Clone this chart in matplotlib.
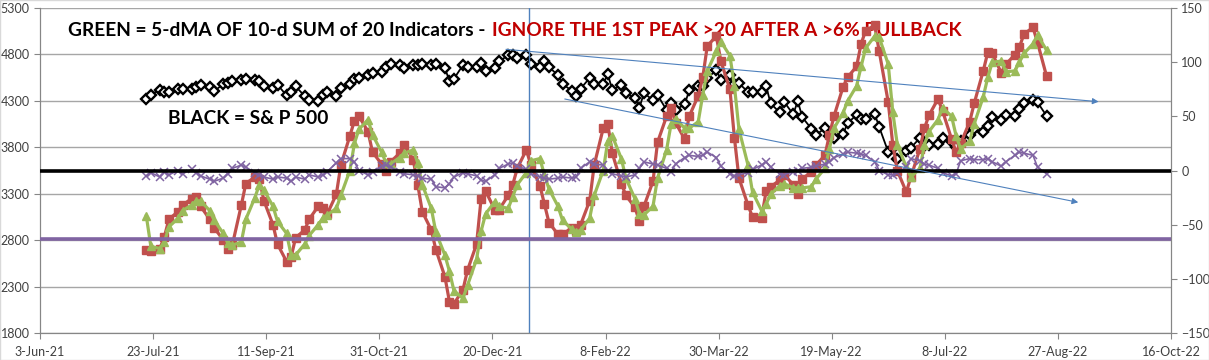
import numpy as np
import pandas as pd
import matplotlib
matplotlib.use("Agg")
import matplotlib.pyplot as plt
import matplotlib.dates as mdates

plt.rcParams['font.family'] = ['Lato', 'DejaVu Sans']

# data: one point every 2nd trading day from 20-Jul-21
first_day = '2021-07-20'

# S&P 500 close (left axis)
spx = [4323, 4367, 4422, 4400, 4395,
       4423, 4429, 4432, 4447, 4468, 4449, 4406, 4479, 4496, 4509, 4523,
       4537, 4530, 4514, 4459, 4443, 4474, 4358, 4395, 4455, 4353, 4308,
       4300, 4363, 4391, 4350, 4438, 4486, 4537, 4545, 4574, 4596,
       4613, 4660, 4697, 4685, 4649, 4682, 4688, 4698, 4690, 4701, 4655,
       4513, 4538, 4686, 4667, 4669, 4709, 4621, 4649, 4726, 4791, 4793, 4766,
       4794, 4696, 4670, 4726, 4663, 4577, 4483, 4410, 4350, 4432,
       4546, 4478, 4484, 4587, 4419, 4471, 4380, 4330, 4226, 4385,
       4306, 4363, 4201, 4278, 4204, 4262, 4412, 4461, 4457, 4543, 4632, 4530,
       4583, 4481, 4488, 4397, 4392, 4391, 4459, 4272, 4175, 4288,
       4155, 4300, 4123, 4001, 3930, 4008, 3923, 3901, 3941, 4058, 4150,
       4101, 4109, 4161, 4018, 3750, 3790, 3675, 3765, 3796, 3900, 3819,
       3825, 3831, 3903, 3855, 3802, 3863, 3937, 3999, 3967, 4024, 4130,
       4091, 4152, 4140, 4210, 4280, 4305, 4284, 4138]

# 10-d sum of 20 indicators (red, right axis)
sum10 = [-73, -74, -72, -61, -45, -38, -32, -26, -24, -33,
         -45, -53, -64, -72, -69, -32, -12, -6, -8, -28,
         -50, -68, -84, -80, -62, -55, -45, -33, -35, -40,
         -22, 5, 32, 46, 50, 36, 17, 6, 0, 8,
         16, 24, 10, -13, -38, -55, -73, -98, -121, -123,
         -110, -92, -68, -26, -19, -36, -36, -23, -13, 2,
         19, 5, -14, -31, -48, -59, -59, -53, -56, -50,
         -28, 5, 39, 43, 16, -12, -23, -34, -47, -33,
         -10, 26, 50, 58, 44, 29, 50, 69, 86, 115,
         124, 101, 75, 30, -7, -32, -43, -44, -19, -15,
         -9, -4, -13, -22, -8, -1, 5, 14, 33, 50,
         77, 86, 96, 117, 129, 134, 110, 63, 24, 0,
         -20, -6, 20, 39, 51, 66, 55, 29, 17, 25,
         45, 62, 92, 109, 108, 90, 98, 107, 114, 126,
         132, 118, 87]

# 5-dMA of the 10-d sum (green, right axis)
ma5 = [-42, -70, -72, -66, -52, -44, -37, -32, -28, -28,
       -37, -46, -58, -67, -69, -66, -45, -25, -13, -18,
       -33, -47, -58, -78, -78, -68, -60, -50, -44, -41,
       -35, -23, 0, 25, 38, 47, 33, 17, 7, 6,
       12, 16, 19, 7, -13, -35, -57, -78, -93, -111,
       -118, -106, -82, -56, -40, -29, -33, -35, -24, -13,
       -2, 9, 11, -4, -17, -33, -46, -54, -57, -55,
       -44, -23, 0, 27, 32, 11, -7, -26, -40, -41,
       -33, -7, 19, 43, 48, 39, 39, 45, 70, 92,
       110, 119, 106, 78, 38, 5, -20, -37, -31, -22,
       -14, -12, -16, -16, -16, -15, -8, 2, 20, 39,
       53, 64, 78, 96, 113, 124, 123, 98, 54, 24,
       3, -6, 2, 24, 36, 47, 58, 50, 32, 20,
       27, 43, 68, 86, 100, 101, 91, 92, 100, 108,
       117, 125, 111]

# daily sum of the 20 indicators (purple, right axis)
daily = [-5, -2, -6, -1, -4, 0, -3, 1, -2, -5,
         -8, -10, -7, -3, 2, 5, 3, -2, -4, -6,
         -8, -6, -7, -10, -6, -8, -4, -6, -4, -1,
         7, 11, 11, 8, 0, -4, -1, 4, 5, 3,
         -1, -3, -4, -5, -7, -8, -15, -16, -12, -6,
         -2, -3, -5, -9, -10, -4, 2, 6, 7, 4,
         1, -3, -6, -7, -8, -7, -6, -7, -6, 2,
         8, 6, 5, 0, -3, -5, -6, -4, 2, 8,
         6, 5, 2, -1, 6, 12, 14, 13, 14, 17,
         12, 4, -3, -5, -4, -2, 1, 5, 8, 3,
         -3, -4, -1, 0, 2, 3, 4, 6, 8, 12,
         15, 17, 16, 15, 14, 8, 0, -4, -4, -2,
         3, 11, 9, 6, 5, 2, -2, -5, -3, 9,
         11, 10, 10, 11, 8, 4, 8, 14, 17, 16,
         14, 3, -3]

zero_level = 0
purple_level = -63
marker_day = '2022-01-05'
# trend arrows: (start date, start S&P), (end date, end S&P)
arrow_upper = (('2021-12-26', 4855), ('2022-09-14', 4291))
arrow_lower = (('2022-01-21', 4320), ('2022-09-05', 3207))

title_black = "GREEN = 5-dMA OF 10-d SUM of 20 Indicators -"
title_red = "IGNORE THE 1ST PEAK >20 AFTER A >6% PULLBACK"
label_black = "BLACK = S& P 500"

assert len(spx) == len(sum10) == len(ma5) == len(daily)
dates = pd.bdate_range(first_day, periods=len(spx), freq='2B')

W, H = 1209, 360
fig = plt.figure(figsize=(W / 100, H / 100), dpi=100)
ax = fig.add_axes([40 / W, 27 / H, 1131 / W, 325 / H])
ax2 = ax.twinx()

ax.plot(dates, spx, color='black', lw=1.3, marker='D', ms=5.5, mfc='white',
        mec='black', mew=1.7)
ax2.plot(dates, sum10, color='#C0504D', lw=2.3, marker='s', ms=6)
ax2.plot(dates, ma5, color='#9BBB59', lw=2.3, marker='^', ms=6)
ax2.plot(dates, daily, color='#8064A2', lw=1.2, marker='x', ms=6, mew=1.1)

ax2.axhline(zero_level, color='black', lw=2.6, zorder=5)
ax2.axhline(purple_level, color='#8064A2', lw=2.6, zorder=5)
ax.axvline(pd.Timestamp(marker_day), color='#4F81BD', lw=1)

for (d0, v0), (d1, v1) in (arrow_upper, arrow_lower):
    ax2.annotate('', xy=(mdates.date2num(pd.Timestamp(d1)), v1),
                 xytext=(mdates.date2num(pd.Timestamp(d0)), v0),
                 xycoords=ax.transData, textcoords=ax.transData,
                 arrowprops=dict(arrowstyle='-|>', color='#4F81BD', lw=0.8,
                                 mutation_scale=9, shrinkA=0, shrinkB=0),
                 zorder=6)

# axes
ax.set_xlim(pd.Timestamp('2021-06-03'), pd.Timestamp('2022-10-16'))
ax.set_ylim(1800, 5300)
ax.set_yticks(range(1800, 5301, 500))
ax2.set_ylim(-150, 150)
ax2.set_yticks(range(-150, 151, 50))
xt = pd.date_range('2021-06-03', '2022-10-16', freq='50D')
ax.set_xticks(xt)
ax.set_xticklabels([f"{d.day}-{d.strftime('%b-%y')}" for d in xt])

ax.yaxis.grid(True, color='#A6A6A6', lw=1)
ax.set_axisbelow(True)
for a in (ax, ax2):
    a.spines['top'].set_visible(False)
    for s in ('left', 'right', 'bottom'):
        a.spines[s].set_color('#868686')
    a.tick_params(direction='out', length=4, color='#868686', labelsize=9,
                  labelcolor='#404040')
ax.tick_params(axis='x', pad=5)

t1 = ax.text(68 / W, 1 - 31 / H, title_black, transform=fig.transFigure,
             fontsize=13.8, fontweight='bold', va='center', ha='left')
ax.annotate(title_red, xy=(1, 0), xycoords=t1, xytext=(5, 0),
            textcoords='offset points', va='bottom', ha='left',
            fontsize=13.8, fontweight='bold', color='#C00000')
ax.text(168 / W, 1 - 119 / H, label_black, transform=fig.transFigure,
        fontsize=13.8, fontweight='bold', va='center', ha='left')

fig.add_artist(plt.Rectangle((0, 0), 1, 1, transform=fig.transFigure,
                             fill=False, edgecolor='#D9D9D9', lw=1))

fig.savefig('out.png', dpi=100)
